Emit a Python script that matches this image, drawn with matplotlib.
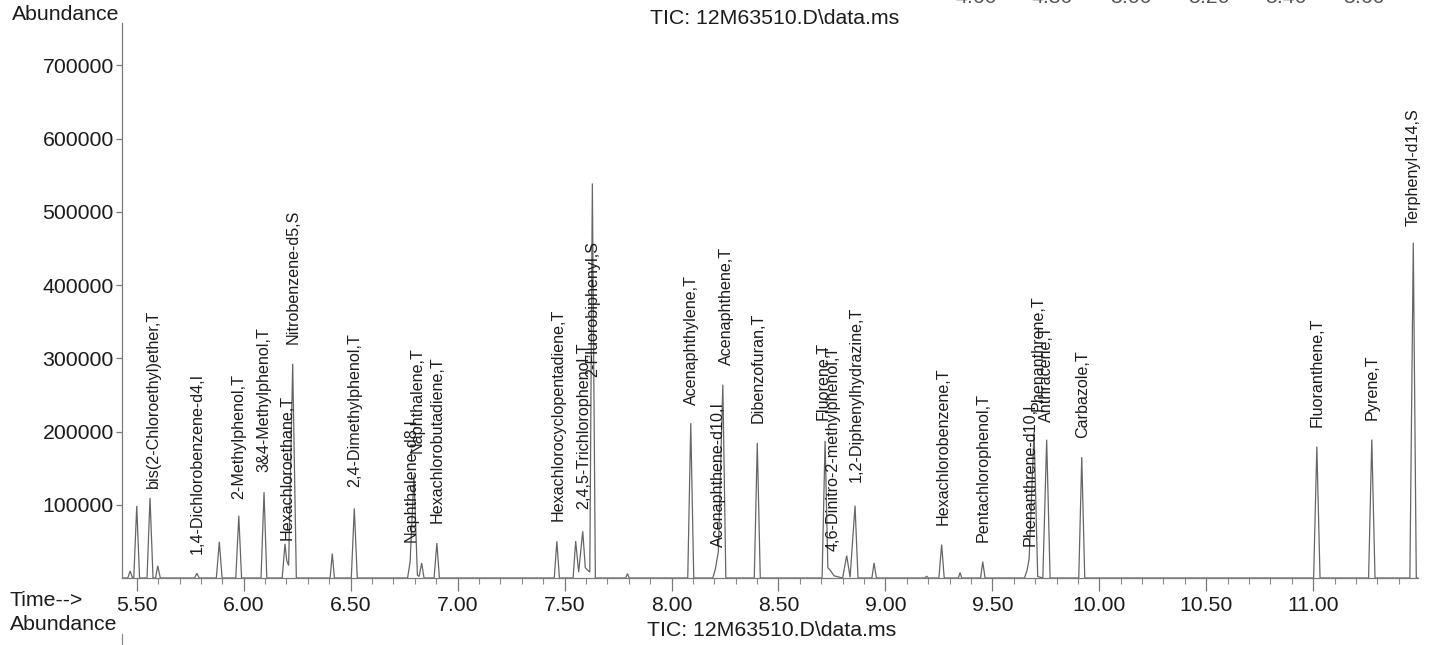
import matplotlib
matplotlib.use("Agg")
import matplotlib.pyplot as plt
from matplotlib.ticker import FixedLocator, MultipleLocator
from matplotlib.lines import Line2D

plt.rcParams['font.family'] = ['Liberation Sans', 'DejaVu Sans']

# TIC trace (retention time in min, abundance)
trace_rt = [
    5.431, 5.458, 5.469, 5.480, 5.486, 5.500, 5.513, 5.548, 5.562, 5.576,
    5.588, 5.598, 5.610, 5.770, 5.781, 5.792, 5.872, 5.886, 5.899, 5.963,
    5.977, 5.990, 6.081, 6.095, 6.108, 6.180, 6.193, 6.201, 6.210, 6.229,
    6.246, 6.404, 6.414, 6.424, 6.503, 6.517, 6.531, 6.766, 6.778, 6.796,
    6.812, 6.820, 6.832, 6.843, 6.890, 6.903, 6.915, 7.452, 7.464, 7.476,
    7.540, 7.552, 7.566, 7.585, 7.597, 7.618, 7.630, 7.644, 7.786, 7.794,
    7.802, 8.076, 8.090, 8.104, 8.193, 8.205, 8.219, 8.240, 8.254, 8.387,
    8.401, 8.415, 8.704, 8.718, 8.731, 8.741, 8.760, 8.800, 8.819, 8.835,
    8.858, 8.872, 8.937, 8.947, 8.958, 9.185, 9.193, 9.201, 9.250, 9.263,
    9.275, 9.341, 9.349, 9.357, 9.445, 9.455, 9.466, 9.650, 9.662, 9.672,
    9.695, 9.712, 9.736, 9.754, 9.770, 9.904, 9.918, 9.932, 11.002, 11.017,
    11.032, 11.259, 11.274, 11.289, 11.452, 11.468, 11.482, 11.490,
]
trace_abund = [
    0, 0, 9600, 0, 0, 98400, 0, 0, 109500, 0,
    0, 16700, 0, 0, 6400, 0, 0, 49400, 0, 0,
    85100, 0, 0, 117200, 0, 0, 46700, 24000, 17000, 292600,
    0, 0, 33300, 0, 0, 95000, 0, 0, 22000, 140000,
    4000, 2000, 20400, 0, 0, 47800, 0, 0, 50100, 0,
    0, 50300, 8000, 63900, 14000, 8000, 538900, 0, 0, 6000,
    0, 0, 211500, 0, 0, 12000, 36000, 264000, 0, 0,
    184500, 0, 0, 187300, 14000, 11000, 3000, 0, 30600, 1000,
    98800, 0, 0, 20600, 0, 0, 2500, 0, 0, 45600,
    0, 0, 7500, 0, 0, 22300, 0, 0, 10000, 26000,
    200000, 2000, 0, 188900, 0, 0, 165100, 0, 0, 179500,
    0, 0, 189100, 0, 0, 458000, 0, 0,
]

# compound names, retention times and the abundance where each name starts
compounds = [
    "bis(2-Chloroethyl)ether,T", "1,4-Dichlorobenzene-d4,I", "2-Methylphenol,T",
    "3&4-Methylphenol,T", "Hexachloroethane,T", "Nitrobenzene-d5,S",
    "2,4-Dimethylphenol,T", "Naphthalene-d8,I", "Naphthalene,T",
    "Hexachlorobutadiene,T", "Hexachlorocyclopentadiene,T", "2,4,5-Trichlorophenol,T",
    "2-Fluorobiphenyl,S", "Acenaphthylene,T", "Acenaphthene-d10,I",
    "Acenaphthene,T", "Dibenzofuran,T", "Fluorene,T",
    "4,6-Dinitro-2-methylphenol,T", "1,2-Diphenylhydrazine,T", "Hexachlorobenzene,T",
    "Pentachlorophenol,T", "Phenanthrene-d10,I", "Phenanthrene,T",
    "Anthracene,T", "Carbazole,T", "Fluoranthene,T",
    "Pyrene,T", "Terphenyl-d14,S",
]
compound_rt = [
    5.576, 5.781, 5.976, 6.095, 6.201, 6.229, 6.517, 6.782, 6.809, 6.903,
    7.471, 7.588, 7.633, 8.092, 8.219, 8.255, 8.406, 8.710, 8.757, 8.866,
    9.271, 9.458, 9.676, 9.715, 9.754, 9.923, 11.017, 11.274, 11.468,
]
label_base = [
    123200, 32400, 107800, 144500, 51400, 320000, 124700, 48600, 170200, 75100,
    78400, 94900, 273900, 236400, 43000, 291400, 211900, 215600, 37000, 130700,
    72000, 49600, 43200, 228000, 213100, 191500, 206800, 216400, 480800,
]

xtick_labels = ["5.50", "6.00", "6.50", "7.00", "7.50", "8.00", "8.50",
                "9.00", "9.50", "10.00", "10.50", "11.00"]
ytick_labels = ["100000", "200000", "300000", "400000", "500000", "600000", "700000"]
# tick labels of the panel above, mostly cut off by the page edge
prev_tick_labels = ["4.60", "4.80", "5.00", "5.20", "5.40", "5.60"]
prev_tick_px = [976, 1052, 1131, 1209, 1286, 1364]

title = "TIC: 12M63510.D\\data.ms"

W, H = 1429, 645
TXT = '#1c1c1c'
LINE = '#666666'


def fx(px):
    return px / W


def fy(py):
    return 1 - py / H


fig = plt.figure(figsize=(W / 100, H / 100), dpi=100)
ax = fig.add_axes([fx(122), fy(578), (1418 - 122) / W, (578 - 23) / H])

ax.plot(trace_rt, trace_abund, color=LINE, lw=0.9, solid_joinstyle='miter')

for name, rt, yb in zip(compounds, compound_rt, label_base):
    ax.text(rt, yb, name, rotation=90, ha='center', va='bottom',
            fontsize=11.6, color=TXT)

ax.set_xlim(5.431, 11.490)
ax.set_ylim(0, 758000)

for s in ['top', 'right']:
    ax.spines[s].set_visible(False)
for s in ['left', 'bottom']:
    ax.spines[s].set_color('#7a7a7a')
    ax.spines[s].set_linewidth(0.9)

ax.xaxis.set_major_locator(FixedLocator([float(v) for v in xtick_labels]))
ax.set_xticklabels(xtick_labels)
ax.xaxis.set_minor_locator(MultipleLocator(0.1))
ax.yaxis.set_major_locator(FixedLocator([float(v) for v in ytick_labels]))
ax.set_yticklabels(ytick_labels)

ax.tick_params(axis='x', which='major', length=9, width=0.9, color='#7a7a7a',
               pad=4, labelsize=15.3, labelcolor=TXT)
ax.tick_params(axis='x', which='minor', length=4, width=0.8, color='#8a8a8a')
ax.tick_params(axis='y', which='major', length=4, width=0.9, color='#7a7a7a',
               pad=2, labelsize=15.3, labelcolor=TXT)

# header and footer text
fig.text(fx(12), fy(14), "Abundance", ha='left', va='center', fontsize=15.3, color=TXT)
fig.text(fx(775), fy(18), title, ha='center', va='center', fontsize=15.3, color=TXT)
fig.text(fx(10), fy(600), "Time-->", ha='left', va='center', fontsize=15.3, color=TXT)
fig.text(fx(10), fy(625), "Abundance", ha='left', va='center', fontsize=15.3, color=TXT)
fig.text(fx(772), fy(630), title, ha='center', va='center', fontsize=15.3, color=TXT)

for lab, px in zip(prev_tick_labels, prev_tick_px):
    fig.text(fx(px), fy(3), lab, ha='center', va='baseline', fontsize=15.3,
             color='#555555')

# start of the next panel's axis
fig.add_artist(Line2D([fx(122), fx(122)], [fy(634), fy(645)],
                      transform=fig.transFigure, color='#8a8a8a', lw=0.9))

fig.savefig("out.png", dpi=100, facecolor='white')
